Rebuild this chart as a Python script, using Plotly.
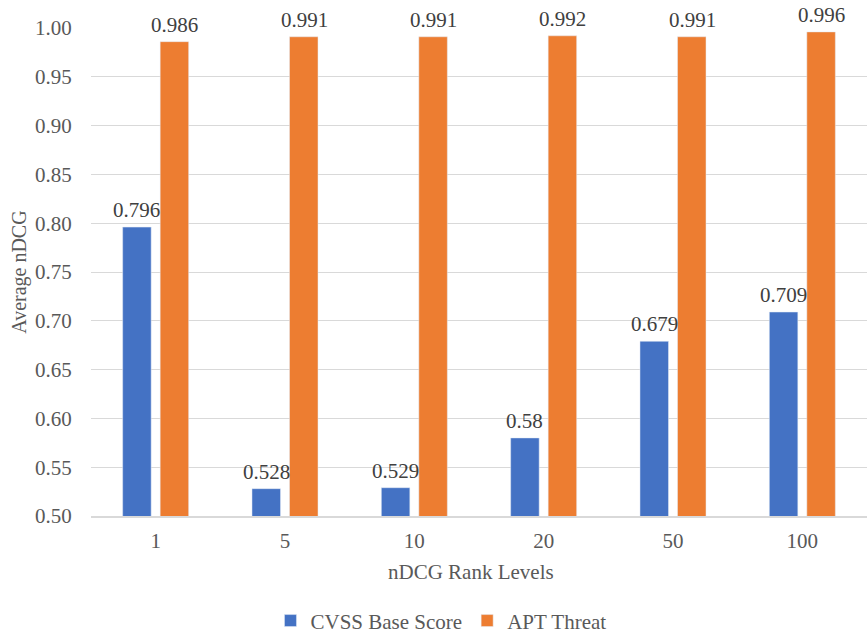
import plotly.graph_objects as go

categories = ["1", "5", "10", "20", "50", "100"]
cvss_values = [0.796, 0.528, 0.529, 0.58, 0.679, 0.709]
apt_values = [0.986, 0.991, 0.991, 0.992, 0.991, 0.996]
cvss_labels = ["0.796", "0.528", "0.529", "0.58", "0.679", "0.709"]
apt_labels = ["0.986", "0.991", "0.991", "0.992", "0.991", "0.996"]
y_ticks = [0.50, 0.55, 0.60, 0.65, 0.70, 0.75, 0.80, 0.85, 0.90, 0.95, 1.00]

FONT = "Liberation Serif, Times New Roman, serif"
TXT = "#595959"
LBL = "#404040"

fig = go.Figure()
fig.add_trace(go.Bar(x=categories, y=cvss_values, name="CVSS Base Score",
                     marker=dict(color="#4472C4")))
fig.add_trace(go.Bar(x=categories, y=apt_values, name="APT Threat",
                     marker=dict(color="#ED7D31")))

annotations = []
for vals, labels, shift in ((cvss_values, cvss_labels, -19), (apt_values, apt_labels, 19)):
    for i, (v, t) in enumerate(zip(vals, labels)):
        annotations.append(dict(x=i, y=v, xref="x", yref="y", text=t, showarrow=False,
                                xanchor="center", yanchor="bottom", xshift=shift, yshift=3,
                                font=dict(family=FONT, size=21, color=LBL)))
annotations += [
    dict(text="nDCG Rank Levels", xref="paper", yref="paper", x=0.49, y=-0.115,
         xanchor="center", yanchor="middle", showarrow=False,
         font=dict(family=FONT, size=21, color=TXT)),
    dict(text="Average nDCG", xref="paper", yref="paper", x=-0.093, y=0.5,
         xanchor="center", yanchor="middle", showarrow=False, textangle=-90,
         font=dict(family=FONT, size=20, color=TXT)),
]

fig.update_layout(
    width=867, height=635,
    paper_bgcolor="white", plot_bgcolor="white",
    margin=dict(l=91, r=0, t=28, b=119, autoexpand=False),
    barmode="group", bargap=0.42, bargroupgap=0.24,
    font=dict(family=FONT, size=21, color=TXT),
    showlegend=True,
    legend=dict(orientation="h", x=0.451, xanchor="center", xref="paper",
                y=-0.215, yanchor="middle", font=dict(family=FONT, size=21, color=TXT),
                traceorder="normal"),
    xaxis=dict(
        type="category", categoryorder="array", categoryarray=categories,
        range=[-0.5, len(categories) - 0.5],
        automargin=False,
        showgrid=False, showline=True, linecolor="#d9d9d9", linewidth=1.5,
        ticks="outside", ticklen=5, tickcolor="rgba(0,0,0,0)",
        tickfont=dict(family=FONT, size=21, color=TXT),
    ),
    yaxis=dict(
        automargin=False,
        range=[0.5, 1.0], tickvals=y_ticks, tickformat=".2f",
        showgrid=True, gridcolor="#d9d9d9", gridwidth=1.2,
        zeroline=False, showline=False,
        ticks="outside", ticklen=14, tickcolor="rgba(0,0,0,0)",
        tickfont=dict(family=FONT, size=21, color=TXT),
    ),
    annotations=annotations,
)

fig.write_html("out.html", config={"displayModeBar": False},
               post_script="document.body.style.margin='0';document.body.style.overflow='hidden';")
